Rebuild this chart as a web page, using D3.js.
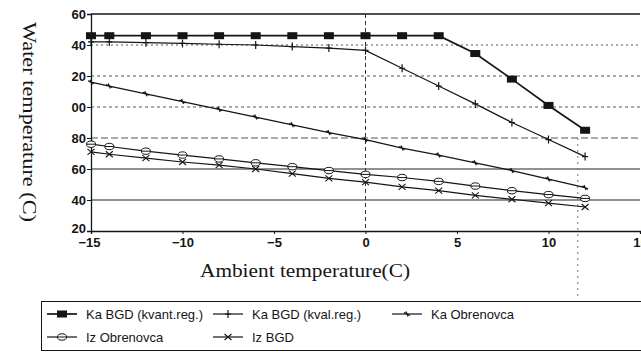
<!DOCTYPE html>
<html><head><meta charset="utf-8">
<script src="https://cdn.jsdelivr.net/npm/d3@7"></script>
<style>body{margin:0;background:#fff}svg{display:block}</style>
</head><body>
<svg id="c" width="641" height="353"></svg>
<script>
// ---- data ----
const xsKvant = [-15,-14,-12,-10,-8,-6,-4,-2,0,2,4,6,8,10,12];
const kaBgdKvant = [146,146,146,146,146,146,146,146,146,146,146,134.5,118,101,85];
const xsOther = [-15,-14,-12,-10,-8,-6,-4,-2,0,2,4,6,8,10,12];
const kaBgdKval = [142,142,141.5,141,140.5,140,139,138,136.5,125,113.5,102,90,79,68];
const kaObrenovca = [116,113.5,108.5,103.5,98.5,93.5,88.5,83.5,79,73.5,69,64,59,53.5,48];
const izObrenovca = [76,74.5,71.5,69,66.5,64,61.5,59,56.5,54.5,52,49,46,43.5,41];
const izBgd = [71,69.5,67,64.5,62.5,60,57,54,51.5,48.5,46,43,40.5,38,35.5];
const seriesNames = ["Ka BGD (kvant.reg.)","Ka BGD (kval.reg.)","Ka Obrenovca","Iz Obrenovca","Iz BGD"];
const xTicks = [-15,-10,-5,0,5,10,15];
const yTicks = [20,40,60,80,100,120,140,160];
const xTitle = "Ambient temperature(C)";
const yTitle = "Water temperature (C)";

// ---- drawing ----
const svg = d3.select("#c");
const L=91, R=640, T=14, B=231;
const x = d3.scaleLinear().domain([-15,15]).range([L,R]);
const y = d3.scaleLinear().domain([20,160]).range([B,T]);
const ink = "#151515";
const tickFont = "'Liberation Sans', Arial, sans-serif";
const serif = "'Liberation Serif', 'Times New Roman', serif";

// gridlines (scanned look)
const gridStyle = {140:"2,3",120:"3,3",100:"3,3",80:"7,3",60:null,40:null};
const g = svg.append("g");
[40,60,80,100,120,140].forEach(v=>{
  g.append("line").attr("x1",L).attr("x2",R).attr("y1",y(v)).attr("y2",y(v))
   .attr("stroke", gridStyle[v]? "#555":"#222").attr("stroke-width", gridStyle[v]?1:1.2)
   .attr("stroke-dasharray", gridStyle[v]);
});
// top frame
g.append("line").attr("x1",L).attr("x2",R).attr("y1",y(160)).attr("y2",y(160)).attr("stroke",ink).attr("stroke-width",1.3);
// vertical dashed at 0
g.append("line").attr("x1",x(0)).attr("x2",x(0)).attr("y1",T).attr("y2",B)
 .attr("stroke","#333").attr("stroke-dasharray","4,3");
// scan artifact dotted line
g.append("line").attr("x1",x(11.6)).attr("x2",x(11.6)).attr("y1",y(80)).attr("y2",300)
 .attr("stroke","#777").attr("stroke-dasharray","2,4");

// axes
const ax = svg.append("g").attr("transform",`translate(0,${B})`)
  .call(d3.axisBottom(x).tickValues(xTicks).tickSize(3).tickFormat(d3.format("d")));
const ay = svg.append("g").attr("transform",`translate(${L},0)`)
  .call(d3.axisLeft(y).tickValues(yTicks).tickSize(4).tickFormat(d=>String(d).slice(-2)));
[ax,ay].forEach(a=>{
  a.select(".domain").attr("stroke",ink).attr("stroke-width",1.3);
  a.selectAll(".tick line").attr("stroke",ink);
  a.selectAll("text").attr("fill",ink).attr("font-family",tickFont).attr("font-size",13).attr("font-weight","bold");
});
ax.selectAll("text").attr("dy","0.75em");
ax.selectAll(".tick").filter(d=>d===-15).select("text").attr("x",-2);
ay.selectAll("text").attr("x",-5);
ay.selectAll(".tick").filter(d=>d===20).select("text").attr("dy","0.15em");

// titles
svg.append("text").attr("x",305).attr("y",277).attr("text-anchor","middle")
 .attr("font-family",serif).attr("font-size",18).attr("fill",ink)
 .attr("textLength",210).attr("lengthAdjust","spacingAndGlyphs").text(xTitle);
svg.append("text").attr("transform","translate(23,122) rotate(90)").attr("text-anchor","middle")
 .attr("font-family",serif).attr("font-size",18).attr("fill",ink)
 .attr("textLength",200).attr("lengthAdjust","spacingAndGlyphs").text(yTitle);

// markers
function marker(sel, type){
  if(type==="square") sel.append("rect").attr("x",-5).attr("y",-3.5).attr("width",10).attr("height",7).attr("fill",ink);
  else if(type==="plus") sel.append("path").attr("d","M0,-4V4M-3,0H3").attr("stroke",ink).attr("stroke-width",1.2);
  else if(type==="dash") sel.append("path").attr("d","M-3,-1.5L3,1.5M-1,-2.5L1,2.5").attr("stroke",ink).attr("stroke-width",1.2);
  else if(type==="circle"){ sel.append("ellipse").attr("rx",4.5).attr("ry",3.2).attr("fill","#fff").attr("stroke",ink).attr("stroke-width",1);
    sel.append("path").attr("d","M-4.5,0H4.5").attr("stroke",ink).attr("stroke-width",1); }
  else if(type==="x") sel.append("path").attr("d","M-3.5,-3L3.5,3M-3.5,3L3.5,-3").attr("stroke",ink).attr("stroke-width",1.1);
}
const series = [
  {name:seriesNames[0], xs:xsKvant, ys:kaBgdKvant, w:1.7, m:"square"},
  {name:seriesNames[1], xs:xsOther, ys:kaBgdKval, w:1.2, m:"plus"},
  {name:seriesNames[2], xs:xsOther, ys:kaObrenovca, w:1.2, m:"dash"},
  {name:seriesNames[3], xs:xsOther, ys:izObrenovca, w:1.2, m:"circle"},
  {name:seriesNames[4], xs:xsOther, ys:izBgd, w:1.2, m:"x"}
];
const line = d3.line().x(d=>x(d[0])).y(d=>y(d[1]));
series.forEach(s=>{
  const pts = s.xs.map((v,i)=>[v,s.ys[i]]);
  svg.append("path").attr("d",line(pts)).attr("fill","none").attr("stroke",ink).attr("stroke-width",s.w);
  pts.forEach(p=>{
    const m = svg.append("g").attr("transform",`translate(${x(p[0])},${y(p[1])})`);
    marker(m,s.m);
  });
});

// legend
const lg = svg.append("g");
lg.append("rect").attr("x",41.5).attr("y",301.5).attr("width",640).attr("height",49)
  .attr("fill","none").attr("stroke",ink).attr("stroke-width",1);
const pos = [[47,314],[213,314],[392,314],[47,337],[213,337]];
series.forEach((s,i)=>{
  const [lx,ly]=pos[i];
  lg.append("line").attr("x1",lx).attr("x2",lx+30).attr("y1",ly).attr("y2",ly).attr("stroke",ink).attr("stroke-width",s.w);
  const m = lg.append("g").attr("transform",`translate(${lx+15},${ly})`);
  marker(m,s.m);
  lg.append("text").attr("x",lx+39).attr("y",ly).attr("dy","0.35em")
    .attr("font-family",tickFont).attr("font-size",13).attr("fill",ink).text(s.name);
});
</script>
</body></html>
